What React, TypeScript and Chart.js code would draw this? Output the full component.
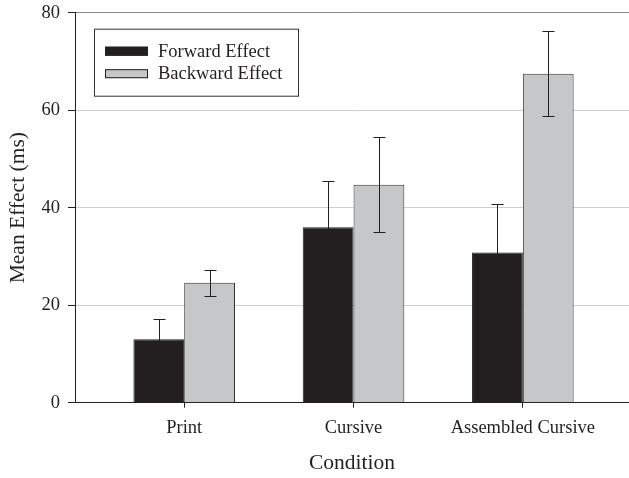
import React, { useEffect, useRef } from 'react';
import { Chart, registerables } from 'chart.js';

Chart.register(...registerables);

const categories = ['Print', 'Cursive', 'Assembled Cursive'];
const forwardEffect = [13.0, 36.0, 30.8];
const forwardError = [4.2, 9.4, 10.0];
const backwardEffect = [24.6, 44.7, 67.5];
const backwardError = [2.7, 9.7, 8.7];
const seriesNames = ['Forward Effect', 'Backward Effect'];
const yTickStep = 20;
const yMin = 0;
const yMax = 80;

const FONT = '"Liberation Serif", "Times New Roman", serif';
const TEXT = '#231f20';

const errorBarPlugin = {
  id: 'errorBars',
  afterDatasetsDraw(chart: any) {
    const ctx = chart.ctx;
    const yScale = chart.scales.y;
    chart.data.datasets.forEach((ds: any, di: number) => {
      const meta = chart.getDatasetMeta(di);
      meta.data.forEach((bar: any, i: number) => {
        const v = ds.data[i];
        const e = ds.errors[i];
        const top = Math.round(yScale.getPixelForValue(v + e)) + 0.5;
        const bot = Math.round(yScale.getPixelForValue(v - e)) + 0.5;
        const x = Math.round(bar.x) + 0.5;
        ctx.save();
        ctx.strokeStyle = '#231f20';
        ctx.lineWidth = 1;
        ctx.beginPath();
        ctx.moveTo(x, top);
        ctx.lineTo(x, bot);
        ctx.moveTo(x - 6, top);
        ctx.lineTo(x + 6, top);
        ctx.moveTo(x - 6, bot);
        ctx.lineTo(x + 6, bot);
        ctx.stroke();
        ctx.restore();
      });
    });
  },
};

const boxLegendPlugin = {
  id: 'boxLegend',
  afterDraw(chart: any) {
    const ctx = chart.ctx;
    const left = chart.chartArea.left + 19;
    const top = chart.chartArea.top + 16;
    const w = 204;
    const h = 67;
    ctx.save();
    ctx.fillStyle = '#ffffff';
    ctx.fillRect(left, top, w, h);
    ctx.strokeStyle = '#333';
    ctx.lineWidth = 1;
    ctx.strokeRect(left + 0.5, top + 0.5, w, h);
    ctx.font = `18.5px ${FONT}`;
    ctx.textBaseline = 'alphabetic';
    ctx.textAlign = 'left';
    chart.data.datasets.forEach((ds: any, i: number) => {
      const rowY = top + 18 + i * 22.5;
      ctx.fillStyle = ds.backgroundColor;
      ctx.fillRect(left + 11, rowY, 43, 9);
      ctx.strokeStyle = '#231f20';
      ctx.strokeRect(left + 11.5, rowY + 0.5, 42, 8);
      ctx.fillStyle = TEXT;
      ctx.fillText(ds.label, left + 64, rowY + 10);
    });
    ctx.restore();
  },
};

export default function App() {
  const ref = useRef<HTMLCanvasElement | null>(null);

  useEffect(() => {
    if (!ref.current) return;
    const chart = new Chart(ref.current, {
      type: 'bar',
      data: {
        labels: categories,
        datasets: [
          {
            label: seriesNames[0],
            data: forwardEffect,
            errors: forwardError,
            backgroundColor: '#231f20',
            borderColor: '#231f20',
            borderWidth: 1,
            barPercentage: 1,
            categoryPercentage: 0.6,
          } as any,
          {
            label: seriesNames[1],
            data: backwardEffect,
            errors: backwardError,
            backgroundColor: '#c6c7c9',
            borderColor: '#333333',
            borderWidth: 1,
            barPercentage: 1,
            categoryPercentage: 0.6,
          } as any,
        ],
      },
      options: {
        responsive: false,
        animation: false,
        devicePixelRatio: 1,
        layout: { padding: { top: 12.7, right: 0, left: 0, bottom: 0 } },
        plugins: {
          legend: { display: false },
          tooltip: { enabled: false },
        },
        scales: {
          x: {
            type: 'category',
            offset: true,
            afterBuildTicks: (s: any) => {
              s._startValue = -0.645;
              s._valueRange = 3.272;
            },
            afterFit: (s: any) => {
              s.height = 75.3;
              s.paddingLeft = 0;
              s.paddingRight = 0;
            },
            grid: {
              display: true,
              drawOnChartArea: false,
              offset: false,
              tickLength: 5,
              tickColor: '#231f20',
            },
            border: { display: true, color: '#231f20', width: 1 },
            ticks: {
              color: TEXT,
              font: { family: FONT, size: 18.5 },
              padding: 9,
              maxRotation: 0,
              autoSkip: false,
            },
            title: {
              display: true,
              text: 'Condition',
              color: TEXT,
              font: { family: FONT, size: 21.5 },
              padding: { top: 2, bottom: 1.5 },
            },
          },
          y: {
            min: yMin,
            max: yMax,
            afterFit: (s: any) => {
              s.width = 75;
              s.paddingTop = 0;
              s.paddingBottom = 0;
            },
            grid: {
              color: (c: any) => (c.tick && c.tick.value === yMax ? '#8a8a8a' : '#d0d0d0'),
              tickColor: '#231f20',
              tickLength: 7,
            },
            border: { display: true, color: '#231f20', width: 1 },
            ticks: {
              stepSize: yTickStep,
              color: TEXT,
              font: { family: FONT, size: 18.5 },
              padding: 8,
            },
            title: {
              display: true,
              text: 'Mean Effect (ms)',
              color: TEXT,
              font: { family: FONT, size: 21.5 },
              padding: { top: 5, bottom: 2 },
            },
          },
        },
      },
      plugins: [errorBarPlugin, boxLegendPlugin],
    } as any);
    return () => chart.destroy();
  }, []);

  return (
    <div style={{ position: 'fixed', left: 0, top: 0, width: 629, height: 478, background: '#fff' }}>
      <canvas ref={ref} width={629} height={478} style={{ width: 629, height: 478 }} />
    </div>
  );
}
